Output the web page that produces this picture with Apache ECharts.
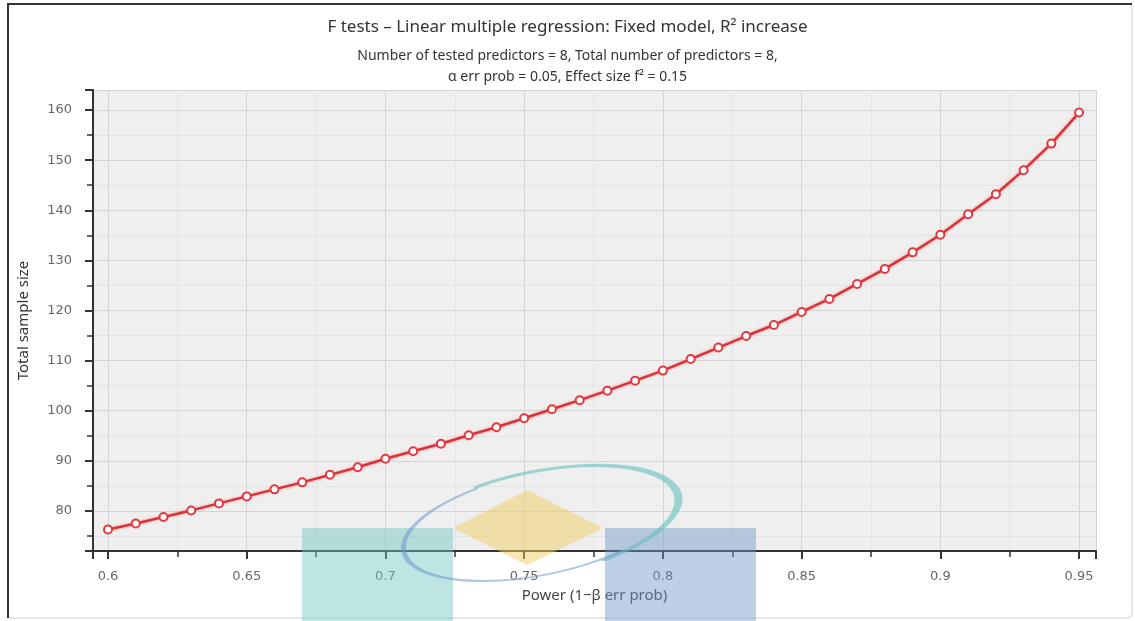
<!DOCTYPE html>
<html>
<head>
<meta charset="utf-8">
<script src="https://cdn.jsdelivr.net/npm/echarts@6/dist/echarts.min.js"></script>
<style>
  html, body { margin: 0; padding: 0; background: #ffffff; }
  #main { width: 1135px; height: 621px; }
</style>
</head>
<body>
<div id="main"></div>
<script>
// power values (x) and total sample size
var powers = [0.60, 0.61, 0.62, 0.63, 0.64, 0.65, 0.66, 0.67, 0.68, 0.69,
  0.70, 0.71, 0.72, 0.73, 0.74, 0.75, 0.76, 0.77, 0.78, 0.79,
  0.80, 0.81, 0.82, 0.83, 0.84, 0.85, 0.86, 0.87, 0.88, 0.89,
  0.90, 0.91, 0.92, 0.93, 0.94, 0.95];
var sampleSize = [76.3, 77.5, 78.8, 80.1, 81.5, 82.9, 84.3, 85.7, 87.2, 88.7,
  90.4, 91.9, 93.4, 95.1, 96.7, 98.5, 100.3, 102.1, 104.0, 106.0,
  108.0, 110.3, 112.6, 114.9, 117.1, 119.7, 122.3, 125.3, 128.3, 131.6,
  135.1, 139.2, 143.2, 148.0, 153.3, 159.5];
var titleText = "F tests \u2013 Linear multiple regression: Fixed model, R\u00b2 increase";
var subText = "Number of tested predictors = 8, Total number of predictors = 8,\n\u03b1 err prob = 0.05, Effect size f\u00b2 = 0.15";

var points = [];
for (var i = 0; i < powers.length; i++) {
  points.push([powers[i], sampleSize[i]]);
}

var myChart = echarts.init(document.getElementById("main"));
var option = {
  backgroundColor: "#ffffff",
  textStyle: { fontFamily: "Noto Sans" },
  title: {
    text: titleText,
    subtext: subText,
    left: "center",
    top: 14,
    itemGap: 10,
    textStyle: { fontSize: 17, fontWeight: "normal", color: "#333" },
    subtextStyle: { fontSize: 14, color: "#333", lineHeight: 21 },
  },
  grid: {
    left: 93,
    right: 39,
    top: 90,
    bottom: 70,
    show: true,
    backgroundColor: "#efefef",
    borderWidth: 0,
  },
  xAxis: {
    type: "value",
    min: 0.5946,
    max: 0.9561,
    splitNumber: 7,
    name: "Power (1\u2212\u03b2 err prob)",
    nameLocation: "middle",
    nameGap: 37,
    nameTextStyle: { fontSize: 15, color: "#444" },
    axisLine: { lineStyle: { color: "#333", width: 2 } },
    axisTick: { length: 8, lineStyle: { color: "#333", width: 2 } },
    minorTick: { show: true, splitNumber: 2, length: 6, lineStyle: { color: "#333", width: 1.5 } },
    axisLabel: {
      margin: 19,
      fontSize: 13,
      color: "#666",
      fontFamily: "DejaVu Sans",
      showMinLabel: false,
      showMaxLabel: false,
    },
    splitLine: { show: true, lineStyle: { color: "#d4d4d4" } },
    minorSplitLine: { show: true, lineStyle: { color: "#e4e4e4" } },
  },
  yAxis: {
    type: "value",
    min: 72,
    max: 164,
    splitNumber: 9,
    name: "Total sample size",
    nameLocation: "middle",
    nameGap: 62,
    nameTextStyle: { fontSize: 15, color: "#333" },
    axisLine: { show: true, lineStyle: { color: "#333", width: 2 } },
    axisTick: { show: true, length: 8, lineStyle: { color: "#333", width: 2 } },
    minorTick: { show: true, splitNumber: 2, length: 6, lineStyle: { color: "#333", width: 1.5 } },
    axisLabel: {
      margin: 21,
      fontSize: 13,
      color: "#666",
      fontFamily: "DejaVu Sans",
      showMinLabel: false,
      showMaxLabel: false,
    },
    splitLine: { show: true, lineStyle: { color: "#d4d4d4" } },
    minorSplitLine: { show: true, lineStyle: { color: "#e4e4e4" } },
  },
  series: [
    {
      type: "line",
      data: points,
      symbol: "circle",
      symbolSize: 8,
      itemStyle: { color: "#ffffff", borderColor: "#e23a3f", borderWidth: 2 },
      lineStyle: {
        color: "#d9333a",
        width: 2.5,
        shadowBlur: 3,
        shadowColor: "rgba(255, 90, 90, 0.6)",
      },
      animation: false,
    },
  ],
  graphic: [
    // window frame
    {
      type: "rect",
      shape: { x: 8, y: 4, width: 1124, height: 614, r: 4 },
      style: { fill: "none", stroke: "#cfcfcf", lineWidth: 1 },
      z: -10,
      silent: true,
    },
    {
      type: "polyline",
      shape: { points: [[8, 618], [8, 4], [1132, 4]] },
      style: { stroke: "#333", lineWidth: 2, fill: "none" },
      silent: true,
    },
    // watermark logo
    {
      type: "rect",
      shape: { x: 302, y: 528, width: 151, height: 95 },
      style: { fill: "rgba(110, 198, 192, 0.45)" },
      z: 100,
      silent: true,
    },
    {
      type: "rect",
      shape: { x: 605, y: 528, width: 151, height: 95 },
      style: { fill: "rgba(110, 150, 200, 0.45)" },
      z: 100,
      silent: true,
    },
    {
      type: "polygon",
      shape: { points: [[453, 528], [527, 490], [603, 528], [527, 565]] },
      style: { fill: "rgba(240, 205, 95, 0.5)" },
      z: 100,
      silent: true,
    },
    {
      type: "group",
      x: 539,
      y: 524,
      rotation: 0.2,
      z: 100,
      silent: true,
      children: [
        {
          type: "arc",
          scaleY: 0.37,
          shape: { cx: 0, cy: 0, r: 142, startAngle: -1.95, endAngle: 1.15, clockwise: true },
          style: { stroke: "rgba(100, 190, 185, 0.6)", lineWidth: 8, fill: "none", lineCap: "round" },
          z: 100,
        },
        {
          type: "arc",
          scaleY: 0.37,
          shape: { cx: 0, cy: 0, r: 138, startAngle: 1.0, endAngle: 4.3, clockwise: true },
          style: { stroke: "rgba(110, 150, 205, 0.55)", lineWidth: 5, fill: "none", lineCap: "round" },
          z: 100,
        },
      ],
    },
  ],
};
option && myChart.setOption(option);
</script>
</body>
</html>
